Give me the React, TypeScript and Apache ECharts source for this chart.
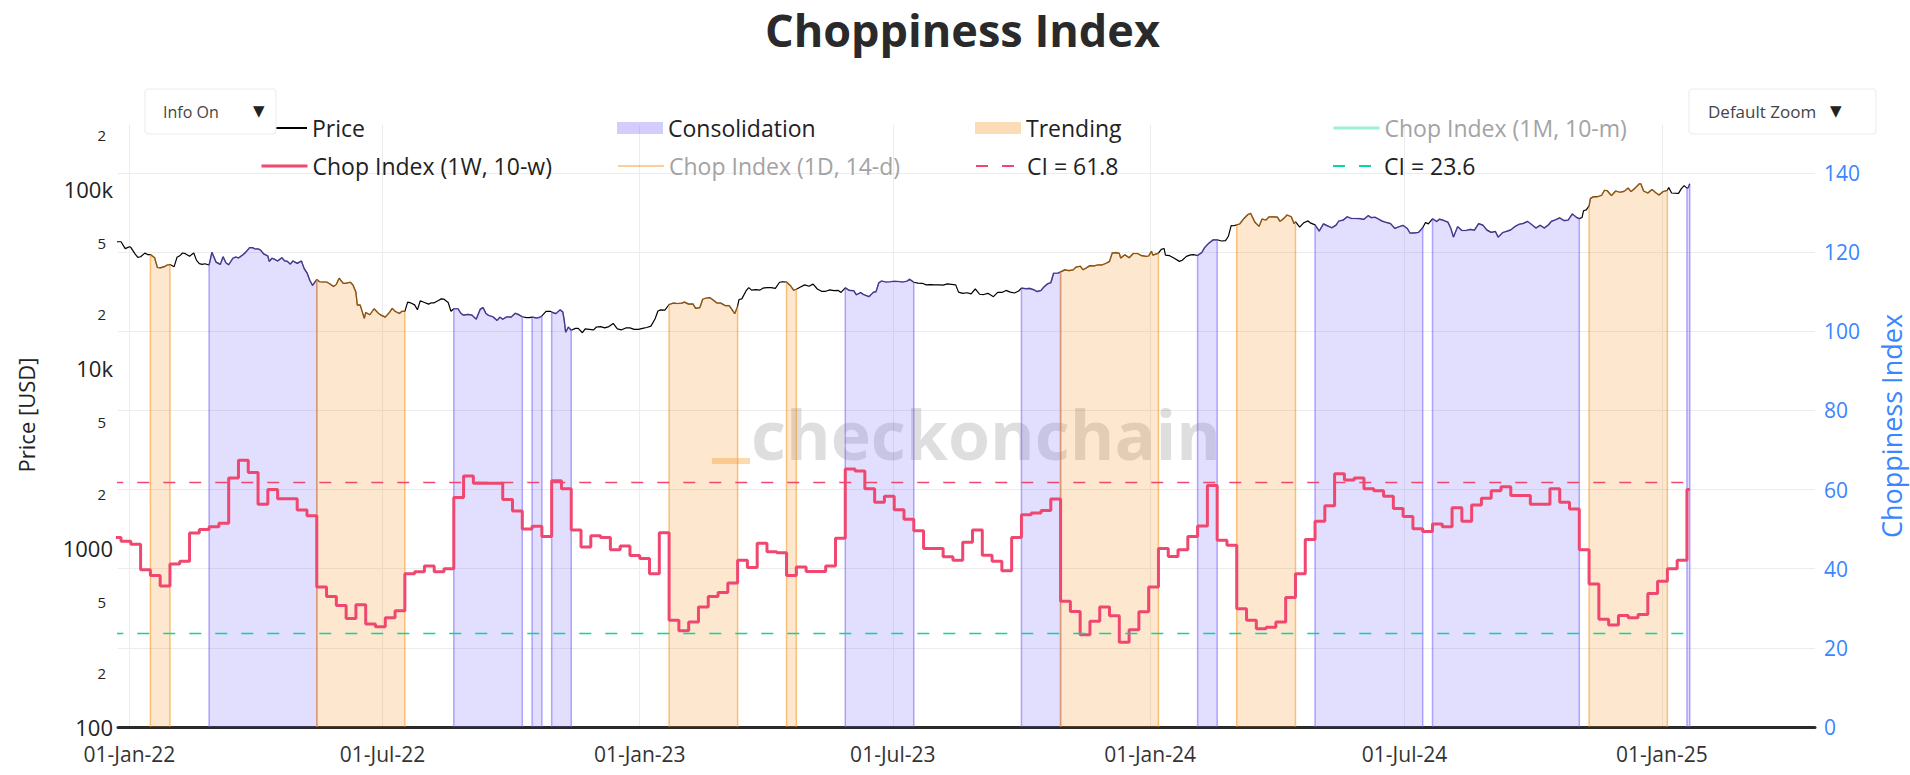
import React, { useEffect, useRef } from 'react';
import * as echarts from 'echarts';

const FONT = "'Open Sans', 'Noto Sans', 'DejaVu Sans', sans-serif";

// ---------- data ----------
const chopStart = '2021-12-19'; // first weekly bar (weeks start on Sundays)
const chopEnd = '2025-01-21'; // last day of data
const chopWeekly: number[] = [
  47.9, 46.9, 46.2, 39.7, 38.3, 35.6, 41.2, 41.9, 49.0, 49.9,
  50.6, 51.5, 62.9, 67.4, 64.3, 56.3, 60.0, 57.7, 57.7, 54.8,
  53.4, 35.4, 33.0, 30.7, 27.4, 30.9, 26.0, 25.3, 27.6, 29.4,
  38.7, 39.2, 40.7, 39.2, 40.0, 58.0, 63.4, 61.6, 61.6, 61.6,
  57.5, 54.6, 50.0, 50.7, 48.1, 62.2, 60.2, 49.8, 45.5, 48.3,
  47.9, 44.8, 45.7, 43.3, 42.6, 38.7, 49.1, 27.0, 24.3, 26.5,
  30.3, 33.0, 34.0, 36.4, 42.1, 40.3, 46.4, 44.3, 44.0, 38.3,
  40.4, 39.3, 39.3, 40.7, 47.7, 65.2, 64.7, 60.2, 56.8, 58.3,
  54.9, 52.5, 49.6, 45.1, 45.1, 43.0, 42.1, 46.7, 49.8, 43.4,
  41.9, 39.5, 47.9, 53.6, 54.1, 54.7, 57.6, 31.8, 29.2, 23.3,
  26.7, 30.3, 28.1, 21.4, 24.6, 29.1, 35.4, 45.1, 43.1, 44.8,
  48.1, 50.8, 61.0, 47.2, 45.9, 29.9, 27.0, 24.8, 25.2, 26.5,
  32.7, 38.7, 47.4, 52.0, 55.9, 64.0, 62.4, 62.9, 60.2, 59.7,
  58.3, 55.2, 53.2, 50.1, 49.4, 51.3, 50.6, 55.4, 52.0, 56.1,
  57.8, 59.7, 60.7, 58.5, 58.5, 56.3, 56.3, 60.2, 56.8, 55.1,
  44.8, 36.1, 27.2, 25.8, 28.2, 27.6, 28.4, 33.7, 36.8, 40.0,
  42.1, 60.0,
];

const price: [string, number][] = [
  ['2021-12-20', 46700], ['2021-12-23', 50800], ['2021-12-26', 50800], ['2021-12-29', 46500],
  ['2022-01-01', 47700], ['2022-01-02', 47300], ['2022-01-05', 43500], ['2022-01-07', 41600],
  ['2022-01-09', 41900], ['2022-01-12', 43900], ['2022-01-14', 43100], ['2022-01-16', 43100],
  ['2022-01-19', 41400], ['2022-01-21', 36500], ['2022-01-23', 36300], ['2022-01-26', 36900],
  ['2022-01-28', 37700], ['2022-01-30', 37900], ['2022-02-02', 36900], ['2022-02-04', 41600],
  ['2022-02-06', 42400], ['2022-02-08', 44000], ['2022-02-10', 43600], ['2022-02-13', 42200],
  ['2022-02-16', 44000], ['2022-02-18', 40000], ['2022-02-20', 38400], ['2022-02-22', 38000],
  ['2022-02-24', 38300], ['2022-02-27', 37700], ['2022-03-01', 44400], ['2022-03-04', 39100],
  ['2022-03-07', 38000], ['2022-03-09', 41900], ['2022-03-11', 38800], ['2022-03-13', 37800],
  ['2022-03-16', 41100], ['2022-03-18', 41800], ['2022-03-20', 41300], ['2022-03-23', 42900],
  ['2022-03-25', 44300], ['2022-03-28', 47100], ['2022-03-30', 47100], ['2022-04-01', 46300],
  ['2022-04-03', 46400], ['2022-04-05', 45500], ['2022-04-07', 43500], ['2022-04-10', 42300],
  ['2022-04-11', 39500], ['2022-04-13', 41100], ['2022-04-15', 40500], ['2022-04-17', 39700],
  ['2022-04-20', 41400], ['2022-04-22', 39700], ['2022-04-24', 39500], ['2022-04-26', 38100],
  ['2022-04-28', 39700], ['2022-05-01', 38500], ['2022-05-04', 39700], ['2022-05-06', 36000],
  ['2022-05-08', 34100], ['2022-05-10', 31000], ['2022-05-12', 29000], ['2022-05-15', 31300],
  ['2022-05-17', 30400], ['2022-05-19', 30300], ['2022-05-22', 30300], ['2022-05-24', 29700],
  ['2022-05-27', 28600], ['2022-05-29', 29400], ['2022-05-31', 31800], ['2022-06-03', 29800],
  ['2022-06-05', 29900], ['2022-06-08', 30200], ['2022-06-10', 29100], ['2022-06-12', 26600],
  ['2022-06-13', 22500], ['2022-06-15', 22600], ['2022-06-18', 19000], ['2022-06-19', 20500],
  ['2022-06-22', 19900], ['2022-06-25', 21500], ['2022-06-28', 20300], ['2022-06-30', 19800],
  ['2022-07-03', 19300], ['2022-07-06', 20500], ['2022-07-08', 21600], ['2022-07-10', 20800],
  ['2022-07-13', 20200], ['2022-07-15', 20800], ['2022-07-17', 20800], ['2022-07-19', 23400],
  ['2022-07-21', 23200], ['2022-07-24', 22600], ['2022-07-26', 21200], ['2022-07-28', 23800],
  ['2022-07-31', 23300], ['2022-08-03', 22800], ['2022-08-05', 23200], ['2022-08-07', 23200],
  ['2022-08-10', 23900], ['2022-08-12', 24400], ['2022-08-14', 24300], ['2022-08-17', 23300],
  ['2022-08-19', 20800], ['2022-08-21', 21500], ['2022-08-24', 21500], ['2022-08-26', 20300],
  ['2022-08-28', 19800], ['2022-08-31', 20000], ['2022-09-03', 19800], ['2022-09-06', 18800],
  ['2022-09-09', 21400], ['2022-09-11', 21800], ['2022-09-13', 20200], ['2022-09-15', 19700],
  ['2022-09-18', 19400], ['2022-09-21', 18500], ['2022-09-23', 19300], ['2022-09-25', 18800],
  ['2022-09-28', 19400], ['2022-10-01', 19300], ['2022-10-04', 20300], ['2022-10-06', 20000],
  ['2022-10-09', 19400], ['2022-10-12', 19200], ['2022-10-14', 19200], ['2022-10-16', 19300],
  ['2022-10-19', 19100], ['2022-10-21', 19200], ['2022-10-23', 19600], ['2022-10-26', 20800],
  ['2022-10-29', 20800], ['2022-10-30', 20600], ['2022-11-02', 20200], ['2022-11-05', 21200],
  ['2022-11-07', 20600], ['2022-11-08', 18500], ['2022-11-09', 15900], ['2022-11-11', 17000],
  ['2022-11-13', 16300], ['2022-11-16', 16700], ['2022-11-18', 16700], ['2022-11-21', 15800],
  ['2022-11-23', 16600], ['2022-11-26', 16500], ['2022-11-29', 16400], ['2022-12-01', 17000],
  ['2022-12-04', 17100], ['2022-12-07', 16800], ['2022-12-10', 17100], ['2022-12-13', 17800],
  ['2022-12-16', 16600], ['2022-12-19', 16400], ['2022-12-22', 16800], ['2022-12-25', 16800],
  ['2022-12-28', 16500], ['2022-12-31', 16500], ['2023-01-03', 16700], ['2023-01-06', 16900],
  ['2023-01-09', 17200], ['2023-01-12', 18900], ['2023-01-14', 20900], ['2023-01-16', 21200],
  ['2023-01-19', 21100], ['2023-01-22', 22700], ['2023-01-25', 23100], ['2023-01-28', 23000],
  ['2023-01-31', 23100], ['2023-02-02', 23400], ['2023-02-05', 22800], ['2023-02-08', 22900],
  ['2023-02-10', 21600], ['2023-02-13', 21800], ['2023-02-15', 24300], ['2023-02-17', 24600],
  ['2023-02-20', 24800], ['2023-02-22', 24200], ['2023-02-25', 23200], ['2023-02-28', 23100],
  ['2023-03-03', 22400], ['2023-03-06', 22400], ['2023-03-10', 20200], ['2023-03-12', 22200],
  ['2023-03-13', 24200], ['2023-03-15', 24400], ['2023-03-18', 27000], ['2023-03-20', 28200],
  ['2023-03-22', 27300], ['2023-03-25', 27500], ['2023-03-28', 27300], ['2023-03-30', 28000],
  ['2023-04-02', 28200], ['2023-04-05', 28200], ['2023-04-08', 27900], ['2023-04-11', 30200],
  ['2023-04-13', 30400], ['2023-04-16', 30300], ['2023-04-19', 28800], ['2023-04-21', 27300],
  ['2023-04-23', 27600], ['2023-04-26', 28400], ['2023-04-29', 29200], ['2023-05-02', 28700],
  ['2023-05-05', 29500], ['2023-05-08', 27700], ['2023-05-11', 26900], ['2023-05-14', 26900],
  ['2023-05-17', 27400], ['2023-05-20', 27100], ['2023-05-23', 27200], ['2023-05-25', 26500],
  ['2023-05-28', 28100], ['2023-05-31', 27200], ['2023-06-03', 27100], ['2023-06-05', 25700],
  ['2023-06-08', 26500], ['2023-06-10', 25800], ['2023-06-14', 25100], ['2023-06-17', 26500],
  ['2023-06-19', 26800], ['2023-06-21', 30000], ['2023-06-23', 30700], ['2023-06-26', 30300],
  ['2023-06-29', 30400], ['2023-07-02', 30600], ['2023-07-05', 30500], ['2023-07-08', 30300],
  ['2023-07-11', 30600], ['2023-07-13', 31400], ['2023-07-16', 30200], ['2023-07-19', 29900],
  ['2023-07-22', 29800], ['2023-07-25', 29200], ['2023-07-28', 29300], ['2023-07-31', 29200],
  ['2023-08-03', 29200], ['2023-08-06', 29100], ['2023-08-09', 29600], ['2023-08-12', 29400],
  ['2023-08-15', 29200], ['2023-08-17', 26600], ['2023-08-20', 26200], ['2023-08-23', 26400],
  ['2023-08-26', 26000], ['2023-08-29', 27700], ['2023-09-01', 25900], ['2023-09-04', 25800],
  ['2023-09-07', 26200], ['2023-09-11', 25100], ['2023-09-14', 26500], ['2023-09-17', 26500],
  ['2023-09-20', 27200], ['2023-09-23', 26600], ['2023-09-26', 26300], ['2023-09-29', 27000],
  ['2023-10-01', 28000], ['2023-10-04', 27800], ['2023-10-07', 27900], ['2023-10-10', 27400],
  ['2023-10-12', 26800], ['2023-10-15', 27200], ['2023-10-17', 28400], ['2023-10-20', 29700],
  ['2023-10-22', 30000], ['2023-10-24', 33900], ['2023-10-27', 33900], ['2023-10-29', 34500],
  ['2023-11-01', 35400], ['2023-11-04', 35100], ['2023-11-07', 35400], ['2023-11-09', 36700],
  ['2023-11-12', 37100], ['2023-11-14', 35500], ['2023-11-16', 36200], ['2023-11-19', 37400],
  ['2023-11-22', 37300], ['2023-11-25', 37800], ['2023-11-28', 37800], ['2023-12-01', 38700],
  ['2023-12-03', 39500], ['2023-12-05', 44100], ['2023-12-08', 44200], ['2023-12-10', 43800],
  ['2023-12-11', 41200], ['2023-12-14', 43000], ['2023-12-17', 41400], ['2023-12-20', 43700],
  ['2023-12-23', 43700], ['2023-12-26', 42500], ['2023-12-29', 42100], ['2023-12-31', 42300],
  ['2024-01-02', 45000], ['2024-01-03', 42800], ['2024-01-07', 43900], ['2024-01-09', 46100],
  ['2024-01-11', 46600], ['2024-01-12', 42800], ['2024-01-15', 42500], ['2024-01-18', 41200],
  ['2024-01-22', 39500], ['2024-01-24', 40100], ['2024-01-27', 42100], ['2024-01-30', 42900],
  ['2024-02-01', 43100], ['2024-02-04', 42600], ['2024-02-07', 44300], ['2024-02-09', 47100],
  ['2024-02-12', 49900], ['2024-02-15', 52000], ['2024-02-18', 52100], ['2024-02-21', 51300],
  ['2024-02-24', 51600], ['2024-02-26', 54500], ['2024-02-28', 62500], ['2024-03-01', 62400],
  ['2024-03-03', 63100], ['2024-03-05', 63800], ['2024-03-08', 68300], ['2024-03-11', 72100],
  ['2024-03-13', 73100], ['2024-03-16', 65300], ['2024-03-19', 61900], ['2024-03-21', 67900],
  ['2024-03-24', 67200], ['2024-03-26', 70000], ['2024-03-29', 69900], ['2024-04-01', 69700],
  ['2024-04-03', 66000], ['2024-04-06', 69000], ['2024-04-08', 71600], ['2024-04-11', 70000],
  ['2024-04-13', 64000], ['2024-04-14', 65700], ['2024-04-17', 61300], ['2024-04-20', 64900],
  ['2024-04-23', 66400], ['2024-04-25', 64500], ['2024-04-28', 63100], ['2024-05-01', 58300],
  ['2024-05-04', 63900], ['2024-05-07', 62300], ['2024-05-10', 60800], ['2024-05-13', 62900],
  ['2024-05-15', 66300], ['2024-05-18', 67000], ['2024-05-21', 70100], ['2024-05-24', 68500],
  ['2024-05-27', 68500], ['2024-05-30', 68400], ['2024-06-02', 67800], ['2024-06-05', 71100],
  ['2024-06-07', 69300], ['2024-06-10', 69600], ['2024-06-12', 68200], ['2024-06-15', 66200],
  ['2024-06-18', 65100], ['2024-06-21', 64100], ['2024-06-24', 60300], ['2024-06-27', 61600],
  ['2024-06-30', 62700], ['2024-07-03', 60200], ['2024-07-05', 56700], ['2024-07-08', 57000],
  ['2024-07-11', 57300], ['2024-07-14', 60800], ['2024-07-16', 65100], ['2024-07-18', 63900],
  ['2024-07-21', 68200], ['2024-07-24', 65900], ['2024-07-26', 67900], ['2024-07-29', 66800],
  ['2024-08-01', 65400], ['2024-08-03', 60700], ['2024-08-05', 54000], ['2024-08-08', 61700],
  ['2024-08-11', 58700], ['2024-08-14', 58700], ['2024-08-17', 59500], ['2024-08-20', 59000],
  ['2024-08-23', 64100], ['2024-08-26', 62900], ['2024-08-29', 59000], ['2024-09-01', 57300],
  ['2024-09-04', 58000], ['2024-09-06', 53900], ['2024-09-09', 57000], ['2024-09-12', 58100],
  ['2024-09-15', 59200], ['2024-09-18', 61800], ['2024-09-21', 63600], ['2024-09-24', 64300],
  ['2024-09-27', 66000], ['2024-09-30', 63300], ['2024-10-03', 60600], ['2024-10-06', 62800],
  ['2024-10-09', 60600], ['2024-10-12', 63200], ['2024-10-14', 66000], ['2024-10-17', 67400],
  ['2024-10-20', 69000], ['2024-10-23', 66700], ['2024-10-26', 67000], ['2024-10-29', 72700],
  ['2024-11-01', 69500], ['2024-11-03', 68400], ['2024-11-05', 69400], ['2024-11-06', 75600],
  ['2024-11-08', 76500], ['2024-11-10', 80500], ['2024-11-11', 88700], ['2024-11-13', 90400],
  ['2024-11-16', 90600], ['2024-11-19', 92300], ['2024-11-21', 98400], ['2024-11-23', 97800],
  ['2024-11-26', 91900], ['2024-11-29', 97500], ['2024-12-02', 95900], ['2024-12-05', 97000],
  ['2024-12-08', 101200], ['2024-12-10', 96700], ['2024-12-13', 101400], ['2024-12-16', 107000],
  ['2024-12-17', 107000], ['2024-12-19', 97500], ['2024-12-22', 95100], ['2024-12-25', 99400],
  ['2024-12-28', 94900], ['2024-12-30', 92600], ['2025-01-02', 96900], ['2025-01-05', 98300],
  ['2025-01-06', 102100], ['2025-01-08', 95000], ['2025-01-10', 94700], ['2025-01-13', 94500],
  ['2025-01-15', 100500], ['2025-01-17', 104400], ['2025-01-19', 101100], ['2025-01-20', 102000],
  ['2025-01-21', 107000],
];

const consolidationRanges: [string, string][] = [
  ['2022-02-27', '2022-05-15'], ['2022-08-21', '2022-10-09'], ['2022-10-16', '2022-10-23'],
  ['2022-10-30', '2022-11-13'], ['2023-05-28', '2023-07-16'], ['2023-10-01', '2023-10-29'],
  ['2024-02-04', '2024-02-18'], ['2024-04-28', '2024-07-14'], ['2024-07-21', '2024-11-03'],
  ['2025-01-19', '2025-01-21'],
];
const trendingRanges: [string, string][] = [
  ['2022-01-16', '2022-01-30'], ['2022-05-15', '2022-07-17'], ['2023-01-22', '2023-03-12'],
  ['2023-04-16', '2023-04-23'], ['2023-10-29', '2024-01-07'], ['2024-03-03', '2024-04-14'],
  ['2024-11-10', '2025-01-05'],
];

const ciUpper = 61.8;
const ciLower = 23.6;

const xTickDates = ['2022-01-01', '2022-07-01', '2023-01-01', '2023-07-01', '2024-01-01', '2024-07-01', '2025-01-01'];
const priceTicks = [100, 200, 500, 1000, 2000, 5000, 10000, 20000, 50000, 100000, 200000];
const chopTicks = [0, 20, 40, 60, 80, 100, 120, 140];
const MONTHS = ['Jan', 'Feb', 'Mar', 'Apr', 'May', 'Jun', 'Jul', 'Aug', 'Sep', 'Oct', 'Nov', 'Dec'];

// ---------- helpers ----------
const DAY = 86400000;
const ts = (s: string) => Date.parse(s + 'T00:00:00Z');
const LOG_MIN = Math.log10(priceTicks[0]);
const LOG_MAX = 5.357;
const CHOP_MAX = 152.1;

function regionData(ranges: [string, string][]) {
  const out: any[] = [];
  ranges.forEach(([s, e]) => {
    const a = ts(s);
    const b = ts(e);
    const pts = price.filter(([d]) => ts(d) >= a && ts(d) <= b);
    out.push([a, LOG_MIN]);
    pts.forEach(([d, v]) => out.push([ts(d), Math.log10(v)]));
    out.push([b, LOG_MIN]);
    out.push([b, null]);
  });
  return out;
}

const fmtDate = (v: number) => {
  const d = new Date(v);
  return `${String(d.getUTCDate()).padStart(2, '0')}-${MONTHS[d.getUTCMonth()]}-${String(d.getUTCFullYear()).slice(2)}`;
};

const fmtPrice = (v: number) => {
  const p = Math.round(Math.pow(10, v));
  const lg = Math.log10(p);
  if (Math.abs(lg - Math.round(lg)) < 1e-6) {
    return `{maj|${p >= 10000 ? p / 1000 + 'k' : p}}`;
  }
  return `{mnr|${String(p)[0]}}`;
};

const PURPLE_FILL = 'rgba(118,98,252,0.3)';
const PURPLE_LINE = 'rgba(118,98,252,0.55)';
const ORANGE_FILL = 'rgba(247,147,26,0.3)';
const ORANGE_LINE = 'rgba(247,147,26,0.55)';
const RED = '#EF476F';
const GREEN = '#06D6A0';
const BLUE = '#3a86ff';

const legendDefs = [
  { name: 'Price', left: 260, row: 0 },
  { name: 'Consolidation', left: 617, row: 0, rect: 'rgba(118,98,252,0.32)' },
  { name: 'Trending', left: 975, row: 0, rect: 'rgba(247,147,26,0.32)' },
  { name: 'Chop Index (1M, 10-m)', left: 1332, row: 0, muted: true, lw: 3 },
  { name: 'Chop Index (1W, 10-w)', left: 260, row: 1, lw: 3 },
  { name: 'Chop Index (1D, 14-d)', left: 617, row: 1, muted: true },
  { name: 'CI = 61.8', left: 975, row: 1 },
  { name: 'CI = 23.6', left: 1332, row: 1 },
];

function buildOption() {
  const xTicks = xTickDates.map(ts);
  const priceTicksLog = priceTicks.map((p) => Math.log10(p));
  const chopData: any[] = chopWeekly.map((v, i) => [ts(chopStart) + i * 7 * DAY, v]);
  chopData.push([ts(chopEnd), chopWeekly[chopWeekly.length - 1]]);

  return {
    animation: false,
    backgroundColor: '#ffffff',
    textStyle: { fontFamily: FONT },
    title: {
      text: 'Choppiness Index',
      left: 765,
      top: 7,
      padding: 0,
      textStyle: { fontSize: 45, fontWeight: 'bold', color: '#2a2a2a', fontFamily: FONT, lineHeight: 45 },
    },
    grid: { left: 118, right: 95, top: 125, bottom: 48, containLabel: false, outerBoundsMode: 'none' },
    legend: legendDefs.map((d) => ({
      show: true,
      left: d.left,
      top: d.row ? 153 : 115,
      padding: 0,
      orient: 'horizontal',
      itemWidth: 46,
      itemHeight: d.rect ? 12 : 14,
      selectedMode: false,
      itemStyle: d.rect ? undefined : { opacity: 0 },
      textStyle: { fontSize: 23, lineHeight: 26, color: d.muted ? '#a3a3a3' : '#222', fontFamily: FONT },
      data: [
        d.rect
          ? { name: d.name, icon: 'rect', itemStyle: { color: d.rect, borderWidth: 0, opacity: 1 } }
          : d.lw
            ? { name: d.name, lineStyle: { width: d.lw } }
            : { name: d.name },
      ],
    })),
    xAxis: {
      type: 'value',
      min: Date.parse('2021-12-23T20:00:00Z'),
      max: Date.parse('2025-04-20T14:00:00Z'),
      scale: true,
      axisLine: { show: true, onZero: false, lineStyle: { color: '#2b2b2b', width: 3 } },
      axisTick: { show: false, customValues: xTicks },
      axisLabel: { customValues: xTicks, formatter: fmtDate, color: '#333', fontSize: 21, fontFamily: FONT, margin: 16 },
      splitLine: { show: true, lineStyle: { color: '#ececec', width: 1 } },
    },
    yAxis: [
      {
        type: 'value',
        min: LOG_MIN,
        max: LOG_MAX,
        position: 'left',
        name: 'Price [USD]',
        nameLocation: 'middle',
        nameGap: 81,
        nameRotate: 90,
        nameTextStyle: { fontSize: 22, color: '#222', fontFamily: FONT, padding: [0, 0, 0, 22] },
        axisLine: { show: false },
        axisTick: { show: false, customValues: priceTicksLog },
        splitLine: { show: false },
        axisLabel: {
          customValues: priceTicksLog,
          formatter: fmtPrice,
          margin: 5,
          rich: {
            maj: { fontSize: 22, color: '#222', fontFamily: FONT },
            mnr: { fontSize: 15, color: '#222', fontFamily: FONT, padding: [0, 7, 0, 0] },
          },
        },
      },
      {
        type: 'value',
        min: 0,
        max: CHOP_MAX,
        position: 'right',
        name: 'Choppiness Index',
        nameLocation: 'middle',
        nameGap: 63,
        nameRotate: 90,
        nameTextStyle: { fontSize: 27, color: BLUE, fontFamily: FONT },
        axisLine: { show: false },
        axisTick: { show: false, customValues: chopTicks },
        axisLabel: { customValues: chopTicks, color: BLUE, fontSize: 21, fontFamily: FONT, margin: 9 },
        splitLine: { show: true, lineStyle: { color: '#ececec', width: 1 } },
      },
    ],
    graphic: [
      {
        type: 'text',
        x: 751,
        y: 433,
        z: 1,
        silent: true,
        style: {
          text: 'checkonchain',
          font: `bold 68px ${FONT}`,
          fill: 'rgba(0,0,0,0.13)',
          textAlign: 'left',
          textVerticalAlign: 'middle',
          align: 'left',
          verticalAlign: 'middle',
        },
      },
      { type: 'rect', z: 1, silent: true, shape: { x: 712, y: 458, width: 38, height: 6 }, style: { fill: 'rgba(247,147,26,0.35)' } },
      { type: 'rect', z: 100, shape: { x: 145, y: 89, width: 131, height: 45, r: 3 }, style: { fill: '#ffffff', stroke: '#ebebeb', lineWidth: 1 } },
      {
        type: 'text', z: 101, x: 163, y: 111.5,
        style: { text: 'Info On', font: `16px ${FONT}`, fill: '#444', textVerticalAlign: 'middle', verticalAlign: 'middle' },
      },
      {
        type: 'text', z: 101, x: 253, y: 111,
        style: { text: '▼', font: `15px 'DejaVu Sans', sans-serif`, fill: '#222', textVerticalAlign: 'middle', verticalAlign: 'middle' },
      },
      { type: 'rect', z: 100, shape: { x: 1689, y: 89, width: 187, height: 45, r: 3 }, style: { fill: '#ffffff', stroke: '#ebebeb', lineWidth: 1 } },
      {
        type: 'text', z: 101, x: 1708, y: 111.5,
        style: { text: 'Default Zoom', font: `17px ${FONT}`, fill: '#444', textVerticalAlign: 'middle', verticalAlign: 'middle' },
      },
      {
        type: 'text', z: 101, x: 1830, y: 111,
        style: { text: '▼', font: `15px 'DejaVu Sans', sans-serif`, fill: '#222', textVerticalAlign: 'middle', verticalAlign: 'middle' },
      },
    ],
    series: [
      {
        name: 'Price',
        type: 'line',
        yAxisIndex: 0,
        symbol: 'none',
        showSymbol: false,
        data: price.map(([d, v]) => [ts(d), Math.log10(v)]),
        lineStyle: { color: '#000000', width: 1.2 },
        itemStyle: { color: '#000000' },
      },
      {
        name: 'Consolidation',
        type: 'line',
        yAxisIndex: 0,
        symbol: 'none',
        showSymbol: false,
        connectNulls: false,
        data: regionData(consolidationRanges),
        lineStyle: { color: PURPLE_LINE, width: 1.5 },
        itemStyle: { color: PURPLE_FILL },
        areaStyle: { color: PURPLE_FILL, origin: 'start' },
      },
      {
        name: 'Trending',
        type: 'line',
        yAxisIndex: 0,
        symbol: 'none',
        showSymbol: false,
        connectNulls: false,
        data: regionData(trendingRanges),
        lineStyle: { color: ORANGE_LINE, width: 1.5 },
        itemStyle: { color: ORANGE_FILL },
        areaStyle: { color: ORANGE_FILL, origin: 'start' },
      },
      {
        name: 'Chop Index (1W, 10-w)',
        type: 'line',
        yAxisIndex: 1,
        step: 'end',
        symbol: 'none',
        showSymbol: false,
        data: chopData,
        lineStyle: { color: RED, width: 3 },
        itemStyle: { color: RED },
      },
      {
        name: 'Chop Index (1D, 14-d)',
        type: 'line',
        yAxisIndex: 1,
        symbol: 'none',
        data: [],
        lineStyle: { color: 'rgba(247,147,26,0.45)', width: 2 },
        itemStyle: { color: 'rgba(247,147,26,0.45)' },
      },
      {
        name: 'Chop Index (1M, 10-m)',
        type: 'line',
        yAxisIndex: 1,
        symbol: 'none',
        data: [],
        lineStyle: { color: 'rgba(6,214,160,0.4)', width: 3 },
        itemStyle: { color: 'rgba(6,214,160,0.4)' },
      },
      {
        name: 'CI = 61.8',
        type: 'line',
        yAxisIndex: 1,
        symbol: 'none',
        data: [[ts(chopStart), ciUpper], [ts(chopEnd), ciUpper]],
        lineStyle: { color: RED, width: 1.5, type: [12, 14] },
        itemStyle: { color: RED },
      },
      {
        name: 'CI = 23.6',
        type: 'line',
        yAxisIndex: 1,
        symbol: 'none',
        data: [[ts(chopStart), ciLower], [ts(chopEnd), ciLower]],
        lineStyle: { color: GREEN, width: 1.5, type: [12, 14] },
        itemStyle: { color: GREEN },
      },
    ],
  };
}

export default function App() {
  const ref = useRef<HTMLDivElement>(null);
  useEffect(() => {
    if (!ref.current) return;
    const chart = echarts.init(ref.current, undefined, { renderer: 'svg' });
    chart.setOption(buildOption() as any);
    return () => chart.dispose();
  }, []);
  return (
    <div
      ref={ref}
      style={{ position: 'fixed', left: 0, top: 0, width: 1910, height: 775, background: '#ffffff' }}
    />
  );
}
